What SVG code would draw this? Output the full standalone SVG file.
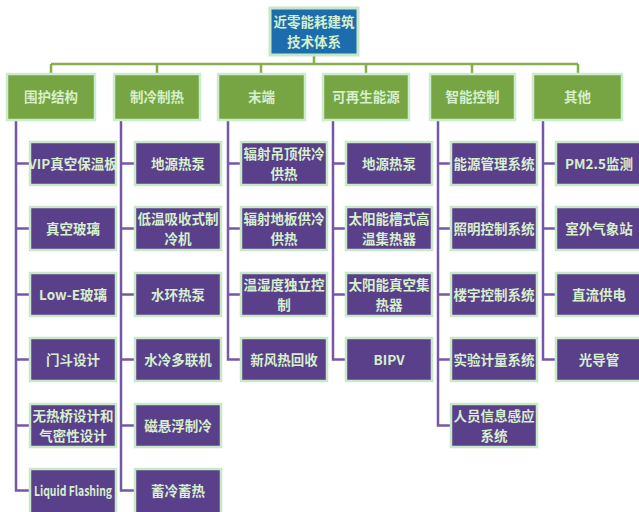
<svg xmlns="http://www.w3.org/2000/svg" width="639" height="512" viewBox="0 0 639 512">
<style>
.root{fill:#1d6cae;stroke:#c6e8c6;stroke-width:3}
.cat{fill:#77a543;stroke:#cdeccd;stroke-width:2.5}
.leaf{fill:#5a3f8b;stroke:#c8e8c8;stroke-width:2.5}
text{font-family:"Noto Sans CJK SC","Noto Sans",sans-serif;font-weight:bold;font-size:13.5px;fill:#d6efcc;text-anchor:middle}
.bus{fill:none;stroke:#86ae4a;stroke-width:2.5}
.pl{fill:none;stroke:#7657a6;stroke-width:2.5}
</style>
<rect width="639" height="512" fill="#ffffff"/>
<g id="connectors">
<path class="bus" d="M314 55V64M51 64H578M51 64V74M157 64V74M261 64V74M366 64V74M472 64V74M578 64V74"/>
<path class="pl" d="M16 120V490.5H30M16 163.5H30M16 228.5H30M16 294.5H30M16 359.5H30M16 425.5H30"/>
<path class="pl" d="M121 120V490.5H135M121 163.5H135M121 228.5H135M121 294.5H135M121 359.5H135M121 425.5H135"/>
<path class="pl" d="M228 120V359.5H241M228 163.5H241M228 228.5H241M228 294.5H241"/>
<path class="pl" d="M333 120V359.5H346M333 163.5H346M333 228.5H346M333 294.5H346"/>
<path class="pl" d="M438 120V425.5H451M438 163.5H451M438 228.5H451M438 294.5H451M438 359.5H451"/>
<path class="pl" d="M543 120V359.5H556M543 163.5H556M543 228.5H556M543 294.5H556"/>
</g>
<g id="root"><rect class="root" x="270" y="8" width="88" height="47"/><text x="314" y="26.5">近零能耗建筑</text><text x="314" y="46.5">技术体系</text></g>
<g id="c1"><rect class="cat" x="7" y="74" width="88" height="46"/><text x="51" y="102">围护结构</text></g>
<g id="c2"><rect class="cat" x="114" y="74" width="86" height="46"/><text x="157" y="102">制冷制热</text></g>
<g id="c3"><rect class="cat" x="218" y="74" width="87" height="46"/><text x="261.5" y="102">末端</text></g>
<g id="c4"><rect class="cat" x="323" y="74" width="86" height="46"/><text x="366" y="102">可再生能源</text></g>
<g id="c5"><rect class="cat" x="430" y="74" width="85" height="46"/><text x="472.5" y="102">智能控制</text></g>
<g id="c6"><rect class="cat" x="533" y="74" width="89" height="46"/><text x="577.5" y="102">其他</text></g>

<g id="n1a"><rect class="leaf" x="30" y="142" width="86" height="43"/><text x="73" y="168.5">VIP真空保温板</text></g>
<g id="n1b"><rect class="leaf" x="30" y="207" width="86" height="43"/><text x="73" y="233.5">真空玻璃</text></g>
<g id="n1c"><rect class="leaf" x="30" y="273" width="86" height="43"/><text x="73" y="299.5">Low-E玻璃</text></g>
<g id="n1d"><rect class="leaf" x="30" y="338" width="86" height="43"/><text x="73" y="364.5">门斗设计</text></g>
<g id="n1e"><rect class="leaf" x="30" y="404" width="86" height="43"/><text x="73" y="420.5">无热桥设计和</text><text x="73" y="440.5">气密性设计</text></g>
<g id="n1f"><rect class="leaf" x="30" y="469" width="86" height="45"/><text x="73" y="495.5" font-size="12" textLength="78" lengthAdjust="spacingAndGlyphs">Liquid Flashing</text></g>

<g id="n2a"><rect class="leaf" x="135" y="142" width="86" height="43"/><text x="178" y="168.5">地源热泵</text></g>
<g id="n2b"><rect class="leaf" x="135" y="207" width="86" height="43"/><text x="178" y="223.5">低温吸收式制</text><text x="178" y="243.5">冷机</text></g>
<g id="n2c"><rect class="leaf" x="135" y="273" width="86" height="43"/><text x="178" y="299.5">水环热泵</text></g>
<g id="n2d"><rect class="leaf" x="135" y="338" width="86" height="43"/><text x="178" y="364.5">水冷多联机</text></g>
<g id="n2e"><rect class="leaf" x="135" y="404" width="86" height="43"/><text x="178" y="430.5">磁悬浮制冷</text></g>
<g id="n2f"><rect class="leaf" x="135" y="469" width="86" height="45"/><text x="178" y="495.5">蓄冷蓄热</text></g>

<g id="n3a"><rect class="leaf" x="241" y="142" width="86" height="43"/><text x="284" y="158.5">辐射吊顶供冷</text><text x="284" y="178.5">供热</text></g>
<g id="n3b"><rect class="leaf" x="241" y="207" width="86" height="43"/><text x="284" y="223.5">辐射地板供冷</text><text x="284" y="243.5">供热</text></g>
<g id="n3c"><rect class="leaf" x="241" y="273" width="86" height="43"/><text x="284" y="289.5">温湿度独立控</text><text x="284" y="309.5">制</text></g>
<g id="n3d"><rect class="leaf" x="241" y="338" width="86" height="43"/><text x="284" y="364.5">新风热回收</text></g>

<g id="n4a"><rect class="leaf" x="346" y="142" width="86" height="43"/><text x="389" y="168.5">地源热泵</text></g>
<g id="n4b"><rect class="leaf" x="346" y="207" width="86" height="43"/><text x="389" y="223.5">太阳能槽式高</text><text x="389" y="243.5">温集热器</text></g>
<g id="n4c"><rect class="leaf" x="346" y="273" width="86" height="43"/><text x="389" y="289.5">太阳能真空集</text><text x="389" y="309.5">热器</text></g>
<g id="n4d"><rect class="leaf" x="346" y="338" width="86" height="43"/><text x="389" y="364.5">BIPV</text></g>

<g id="n5a"><rect class="leaf" x="451" y="142" width="86" height="43"/><text x="494" y="168.5">能源管理系统</text></g>
<g id="n5b"><rect class="leaf" x="451" y="207" width="86" height="43"/><text x="494" y="233.5">照明控制系统</text></g>
<g id="n5c"><rect class="leaf" x="451" y="273" width="86" height="43"/><text x="494" y="299.5">楼宇控制系统</text></g>
<g id="n5d"><rect class="leaf" x="451" y="338" width="86" height="43"/><text x="494" y="364.5">实验计量系统</text></g>
<g id="n5e"><rect class="leaf" x="451" y="404" width="86" height="43"/><text x="494" y="420.5">人员信息感应</text><text x="494" y="440.5">系统</text></g>

<g id="n6a"><rect class="leaf" x="556" y="142" width="86" height="43"/><text x="599" y="168.5">PM2.5监测</text></g>
<g id="n6b"><rect class="leaf" x="556" y="207" width="86" height="43"/><text x="599" y="233.5">室外气象站</text></g>
<g id="n6c"><rect class="leaf" x="556" y="273" width="86" height="43"/><text x="599" y="299.5">直流供电</text></g>
<g id="n6d"><rect class="leaf" x="556" y="338" width="86" height="43"/><text x="599" y="364.5">光导管</text></g>
</svg>
